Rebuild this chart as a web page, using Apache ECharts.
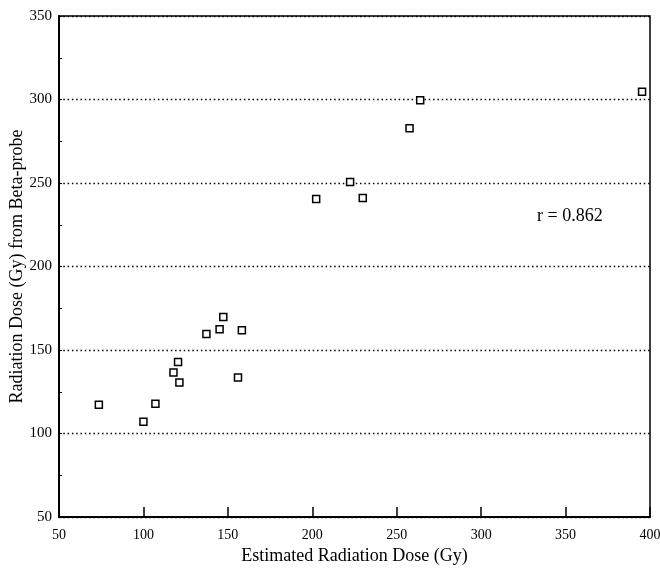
<!DOCTYPE html>
<html>
<head>
<meta charset="utf-8">
<script src="https://cdn.jsdelivr.net/npm/echarts@6/dist/echarts.min.js"></script>
<style>html,body{margin:0;padding:0;background:#fff;}#c{width:660px;height:576px;}</style>
</head>
<body>
<div id="c"></div>
<script>
var estimatedDose = [73.6, 100.0, 107.1, 117.8, 120.5, 121.3, 137.3, 145.1, 147.3, 158.3, 156.0, 202.3, 222.4, 229.9, 257.6, 263.9, 395.3];
var betaProbeDose = [117.2, 107.0, 117.8, 136.6, 142.8, 130.6, 159.6, 162.4, 169.8, 161.8, 133.6, 240.4, 250.6, 241.0, 282.8, 299.6, 304.6];
var xTitle = 'Estimated Radiation Dose (Gy)';
var yTitle = 'Radiation Dose (Gy) from Beta-probe';
var annotation = 'r = 0.862';

var points = estimatedDose.map(function (x, i) { return [x, betaProbeDose[i]]; });
var font = 'Liberation Serif';
var chart = echarts.init(document.getElementById('c'), null, {renderer: 'canvas'});
chart.setOption({
  backgroundColor: '#fff',
  animation: false,
  grid: {left: 59, right: 10, top: 16, bottom: 59, outerBoundsMode: 'none', containLabel: false, show: true, borderColor: '#000', borderWidth: 1.5, backgroundColor: 'transparent'},
  xAxis: {
    type: 'value', min: 50, max: 400, interval: 50,
    name: xTitle, nameLocation: 'middle', nameGap: 30, nameMoveOverlap: false,
    nameTextStyle: {fontFamily: font, fontSize: 18, color: '#000'},
    axisLine: {show: true, lineStyle: {color: '#000', width: 2}},
    axisTick: {show: true, inside: true, length: 10, lineStyle: {color: '#000', width: 1.5}},
    axisLabel: {fontFamily: font, fontSize: 14, color: '#000', margin: 11},
    splitLine: {show: false}
  },
  yAxis: {
    type: 'value', min: 50, max: 350, interval: 50,
    name: yTitle, nameLocation: 'middle', nameGap: 33, nameMoveOverlap: false,
    nameTextStyle: {fontFamily: font, fontSize: 18, color: '#000'},
    axisLine: {show: true, lineStyle: {color: '#000', width: 2}},
    axisTick: {show: true, inside: true, length: 3, lineStyle: {color: '#000', width: 1}},
    minorTick: {show: true, splitNumber: 2, length: 3, lineStyle: {color: '#000', width: 1}},
    axisLabel: {fontFamily: font, fontSize: 15, color: '#000', margin: 7},
    splitLine: {show: true, lineStyle: {color: '#000', width: 1.3, type: [1.5, 2.8]}}
  },
  series: [{
    type: 'scatter',
    data: points,
    symbol: 'rect',
    symbolSize: 7,
    itemStyle: {color: '#fff', borderColor: '#000', borderWidth: 1.5, opacity: 1},
    z: 5
  }],
  graphic: [{
    type: 'text', left: 537, top: 207,
    style: {text: annotation, fontFamily: font, fontSize: 18, fill: '#000'}
  }]
});
</script>
</body>
</html>
